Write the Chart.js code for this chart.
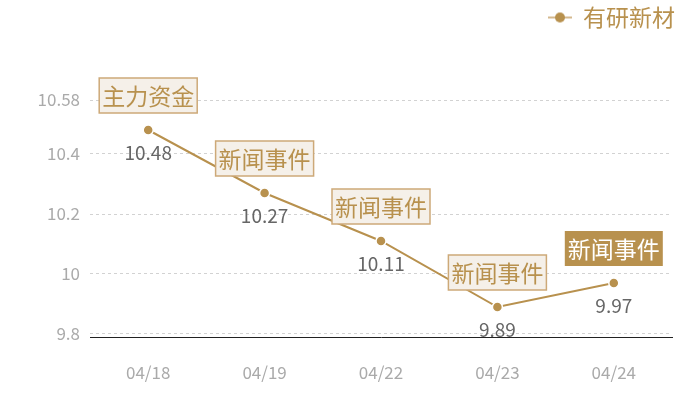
<!DOCTYPE html>
<html>
<head>
<meta charset="utf-8">
<script src="https://cdn.jsdelivr.net/npm/chart.js@4/dist/chart.umd.min.js"></script>
<style>
html,body{margin:0;padding:0;background:#fff;}
#wrap{width:700px;height:400px;}
</style>
</head>
<body>
<div id="wrap"><canvas id="c" width="700" height="400"></canvas></div>
<script>
const categories = ['04/18','04/19','04/22','04/23','04/24'];
const seriesName = '有研新材';
const prices = [10.48, 10.27, 10.11, 9.89, 9.97];
const eventLabels = ['主力资金','新闻事件','新闻事件','新闻事件','新闻事件'];
const eventHighlight = [false,false,false,false,true];
const yTicks = [9.8, 10, 10.2, 10.4, 10.58];
const yMin = 9.79, yMax = 10.58;

const GOLD = '#b8914e';
const FONT = '"Noto Sans CJK SC", "Noto Sans", sans-serif';

const marker = document.createElement('canvas');
marker.width = 24; marker.height = 12;
(function(){
  const m = marker.getContext('2d');
  m.strokeStyle = '#d4b98f'; m.lineWidth = 2;
  m.beginPath(); m.moveTo(0, 6); m.lineTo(24, 6); m.stroke();
  m.fillStyle = GOLD;
  m.beginPath(); m.arc(12, 6, 5, 0, Math.PI * 2); m.fill();
})();

const labelPlugin = {
  id: 'labels',
  afterDatasetsDraw(chart) {
    const ctx = chart.ctx;
    const meta = chart.getDatasetMeta(0);
    ctx.save();
    meta.data.forEach((pt, i) => {
      const x = pt.x, y = pt.y;
      ctx.font = '19px ' + FONT;
      ctx.fillStyle = '#666666';
      ctx.textAlign = 'center';
      ctx.textBaseline = 'middle';
      ctx.fillText(String(prices[i]), x, y + 23);
      ctx.font = '23px ' + FONT;
      const t = eventLabels[i];
      const w = ctx.measureText(t).width + 6;
      const h = 35;
      const bx = x - w / 2, by = y - 17 - h;
      if (eventHighlight[i]) {
        ctx.fillStyle = GOLD;
        ctx.fillRect(bx, by, w, h);
        ctx.fillStyle = '#ffffff';
      } else {
        ctx.fillStyle = '#f5f0e9';
        ctx.fillRect(bx, by, w, h);
        ctx.strokeStyle = '#cda978';
        ctx.lineWidth = 1.5;
        ctx.strokeRect(bx, by, w, h);
        ctx.fillStyle = GOLD;
      }
      ctx.fillText(t, x, by + h / 2 + 1);
    });
    ctx.restore();
  }
};

new Chart(document.getElementById('c'), {
  type: 'line',
  data: {
    labels: categories,
    datasets: [{
      label: seriesName,
      data: prices,
      borderColor: GOLD,
      backgroundColor: GOLD,
      borderWidth: 2,
      pointRadius: 5,
      pointBorderColor: '#ffffff',
      pointBorderWidth: 1.5,
      pointBackgroundColor: GOLD,
      tension: 0
    }]
  },
  options: {
    responsive: false,
    animation: false,
    layout: { padding: { left: 0, right: 28, top: 0, bottom: 14 } },
    plugins: {
      legend: {
        display: true,
        align: 'end',
        labels: {
          usePointStyle: true,
          color: GOLD,
          font: { family: FONT, size: 23 },
          padding: 6,
          generateLabels(chart) {
            return [{
              text: seriesName,
              fillStyle: GOLD,
              strokeStyle: GOLD,
              lineWidth: 0,
              pointStyle: marker,
              fontColor: GOLD,
              datasetIndex: 0
            }];
          }
        }
      },
      tooltip: { enabled: false }
    },
    scales: {
      x: {
        offset: true,
        afterFit(axis) { axis.height = 49; },
        grid: { display: false, drawTicks: false },
        border: { display: true, color: '#222222', width: 1 },
        ticks: { color: '#aaaaaa', font: { family: FONT, size: 17 }, padding: 25 }
      },
      y: {
        min: yMin,
        max: yMax,
        afterBuildTicks(axis) { axis.ticks = yTicks.map(v => ({ value: v })); },
        afterFit(axis) { axis.width = 90; },
        grid: { color: '#d2d2d2', drawTicks: false },
        border: { display: false, dash: [3, 3] },
        ticks: {
          color: '#aaaaaa',
          font: { family: FONT, size: 17 },
          padding: 10,
          callback: v => String(v)
        }
      }
    }
  },
  plugins: [labelPlugin, {
    id: 'legendFix',
    afterInit(chart) {
      const lg = chart.legend;
      const origFit = lg.fit;
      lg.fit = function() { origFit.call(this); this.height = 100; };
      const origDraw = lg.draw;
      lg.draw = function() {
        const c = this.ctx;
        c.save(); c.translate(9, 0); origDraw.call(this); c.restore();
      };
    }
  }]
});
</script>
</body>
</html>
